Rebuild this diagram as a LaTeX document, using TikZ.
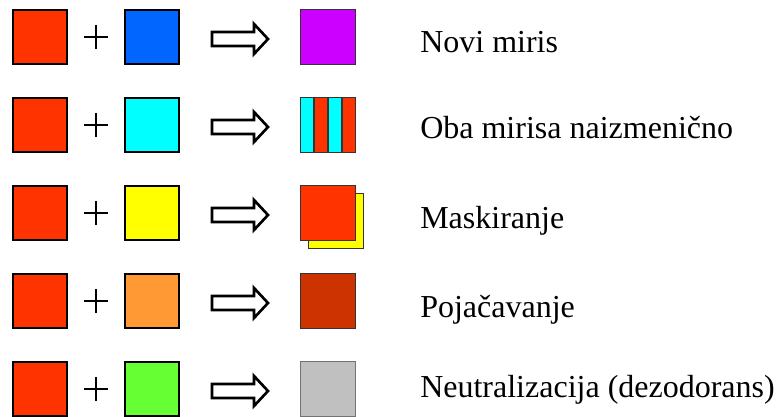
\documentclass[tikz,border=0pt]{standalone}
\usepackage{fontspec}
\setmainfont{Liberation Serif}
\usetikzlibrary{calc}
\definecolor{cRed}{HTML}{FF3300}
\definecolor{cBlue}{HTML}{0066FF}
\definecolor{cPurple}{HTML}{CC00FF}
\definecolor{cCyan}{HTML}{00FFFF}
\definecolor{cYellow}{HTML}{FFFF00}
\definecolor{cOrange}{HTML}{FF9933}
\definecolor{cGreen}{HTML}{66FF33}
\definecolor{cBrown}{HTML}{CC3300}
\definecolor{cGray}{HTML}{C0C0C0}
\definecolor{cEdge}{HTML}{333333}
\begin{document}
\begin{tikzpicture}[x=0.75pt,y=-0.75pt,
  insq/.style={draw=black, line width=2.2pt, minimum size=40.5pt, inner sep=0pt, outer sep=0pt},
  outsq/.style={draw=cEdge, line width=1.3pt, minimum size=41.2pt, inner sep=0pt, outer sep=0pt},
  plussign/.style={line width=1.2pt},
  blockarrow/.style={draw=black, line width=2pt, fill=white, line join=miter},
  label/.style={anchor=base west, inner sep=0pt, font=\fontsize{24}{29}\selectfont}]
\useasboundingbox (0,0) rectangle (781,417);

% one row per mixture: y offset, second colour, caption baseline, caption
\foreach \i/\second/\base/\txt in {0/cBlue/53/{Novi miris},1/cCyan/139/{Oba mirisa naizmenično},2/cYellow/228/{Maskiranje},3/cOrange/317/{Pojačavanje},4/cGreen/397/{Neutralizacija (dezodorans)}}{
  \pgfmathsetmacro{\dy}{88*\i}
  \node[insq, fill=cRed] (a\i) at (40,37+\dy) {};
  \node[insq, fill=\second] (b\i) at (152,37+\dy) {};
  \coordinate (p\i) at (96,37+\dy);
  \draw[plussign] ($(p\i)+(-12,0)$) -- ($(p\i)+(12,0)$)
                  ($(p\i)+(0,-12)$) -- ($(p\i)+(0,12)$);
  \coordinate (h\i) at (212,39+\dy);
  \draw[blockarrow] (h\i) -- ++(0,-7) -- ++(42,0) -- ++(0,-8) -- ++(14,15)
     -- ++(-14,15) -- ++(0,-8) -- ++(-42,0) -- cycle;
  \node[label] (t\i) at (420,\base) {\txt};
}

% results
\node[outsq, fill=cPurple] (r0) at (328,37) {};

% alternating stripes: 4 bands of equal width, outlined on top
\node[outsq, draw=none] (r1) at (328,125) {};
\foreach \k/\col in {0/cCyan,1/cRed,2/cCyan,3/cRed}{
  \fill[\col] ($(r1.north west)+(13.75*\k,0)$) rectangle ($(r1.south west)+(13.75*\k+13.75,0)$);
}
\foreach \k in {1,2,3}{
  \draw[cEdge, line width=1.3pt] ($(r1.north west)+(13.75*\k,0)$) -- ($(r1.south west)+(13.75*\k,0)$);
}
\draw[cEdge, line width=1.3pt] (r1.north west) rectangle (r1.south east);

\node[outsq, fill=cYellow] (r2b) at (336,221) {};
\node[outsq, fill=cRed] (r2) at (328,213) {};

\node[outsq, fill=cBrown] (r3) at (328,301) {};
\node[outsq, fill=cGray, draw=black!55] (r4) at (328,389) {};
\end{tikzpicture}
\end{document}
